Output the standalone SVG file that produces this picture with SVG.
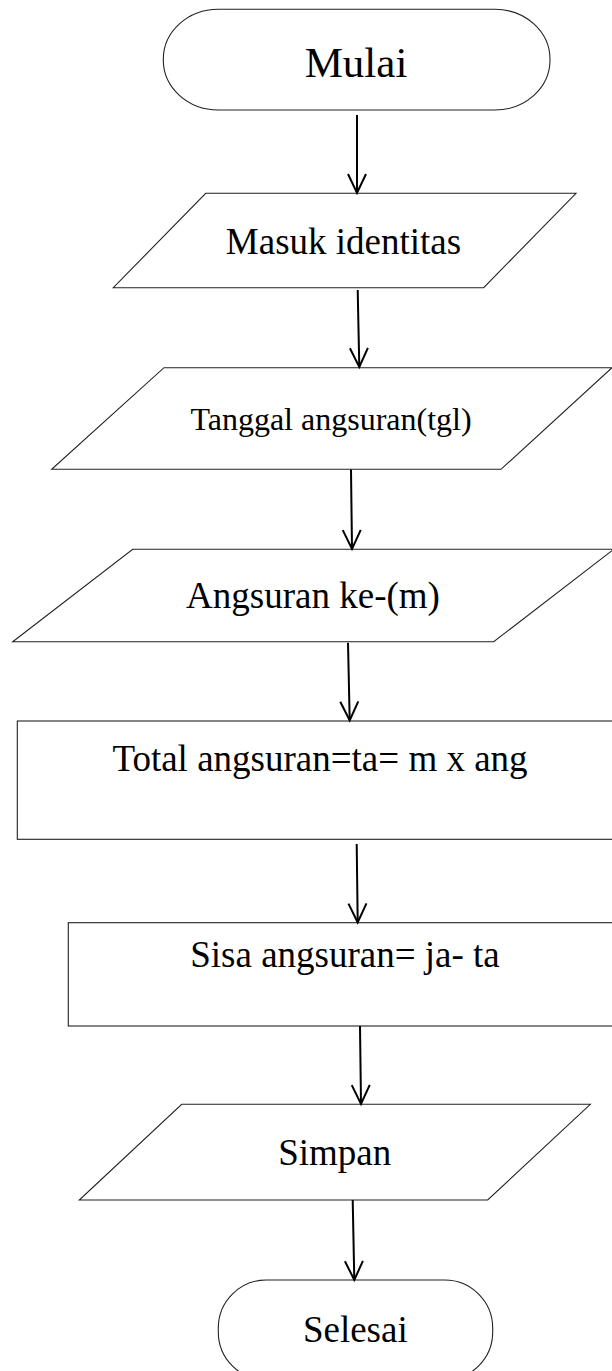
<svg xmlns="http://www.w3.org/2000/svg" width="612" height="1371" viewBox="0 0 612 1371">
<style>
.shape{fill:#fff;stroke:#222;stroke-width:1.1}
.lbl{font-family:"Liberation Serif","Times New Roman",serif;fill:#000;text-anchor:middle}
.conn{stroke:#000;stroke-width:2;fill:none}
</style>
<defs>
<marker id="arr" markerUnits="userSpaceOnUse" markerWidth="24" markerHeight="24" viewBox="-1 -1 24 24" refX="20" refY="10" orient="auto">
<path d="M1,1 L20,10 L1,19" fill="none" stroke="#000" stroke-width="2"/>
</marker>
</defs>
<rect width="612" height="1371" fill="#fff"/>
<g id="mulai">
<rect class="shape" x="163.3" y="9.3" width="386.7" height="100.7" rx="55" ry="50"/>
<text class="lbl" x="356" y="76.5" font-size="43">Mulai</text>
</g>
<g id="masuk-identitas">
<polygon class="shape" points="205.7,193.3 576,193.3 483.7,287.7 113.3,287.7"/>
<text class="lbl" x="343.5" y="254" font-size="37">Masuk identitas</text>
</g>
<g id="tanggal-angsuran">
<polygon class="shape" points="164,367.7 612,367.7 501,469.3 51.7,469.3"/>
<text class="lbl" x="331" y="430" font-size="32">Tanggal angsuran(tgl)</text>
</g>
<g id="angsuran-ke">
<polygon class="shape" points="132.7,549.3 613.7,549.3 493.7,641.7 12.7,641.7"/>
<text class="lbl" x="313" y="608.3" font-size="37">Angsuran ke-(m)</text>
</g>
<g id="total-angsuran">
<rect class="shape" x="17.3" y="721" width="600" height="118.3"/>
<text class="lbl" x="320" y="770.7" font-size="37">Total angsuran=ta= m x ang</text>
</g>
<g id="sisa-angsuran">
<rect class="shape" x="68.3" y="922.7" width="560" height="103.3"/>
<text class="lbl" x="345" y="966.7" font-size="37">Sisa angsuran= ja- ta</text>
</g>
<g id="simpan">
<polygon class="shape" points="181.7,1104.3 590.3,1104.3 487.7,1200 79.3,1200"/>
<text class="lbl" x="334.7" y="1165" font-size="37">Simpan</text>
</g>
<g id="selesai">
<rect class="shape" x="218.3" y="1280" width="274.4" height="100" rx="48" ry="48"/>
<text class="lbl" x="355.3" y="1341.7" font-size="37">Selesai</text>
</g>
<g id="connectors">
<line class="conn" x1="357" y1="115" x2="357" y2="193" marker-end="url(#arr)"/>
<line class="conn" x1="357.7" y1="290" x2="359.3" y2="367" marker-end="url(#arr)"/>
<line class="conn" x1="351" y1="469.5" x2="352" y2="549" marker-end="url(#arr)"/>
<line class="conn" x1="348" y1="642.7" x2="349.7" y2="720.5" marker-end="url(#arr)"/>
<line class="conn" x1="356.7" y1="844" x2="357.7" y2="922.5" marker-end="url(#arr)"/>
<line class="conn" x1="360" y1="1026" x2="361" y2="1104" marker-end="url(#arr)"/>
<line class="conn" x1="352.7" y1="1200" x2="354.3" y2="1280" marker-end="url(#arr)"/>
</g>
</svg>
